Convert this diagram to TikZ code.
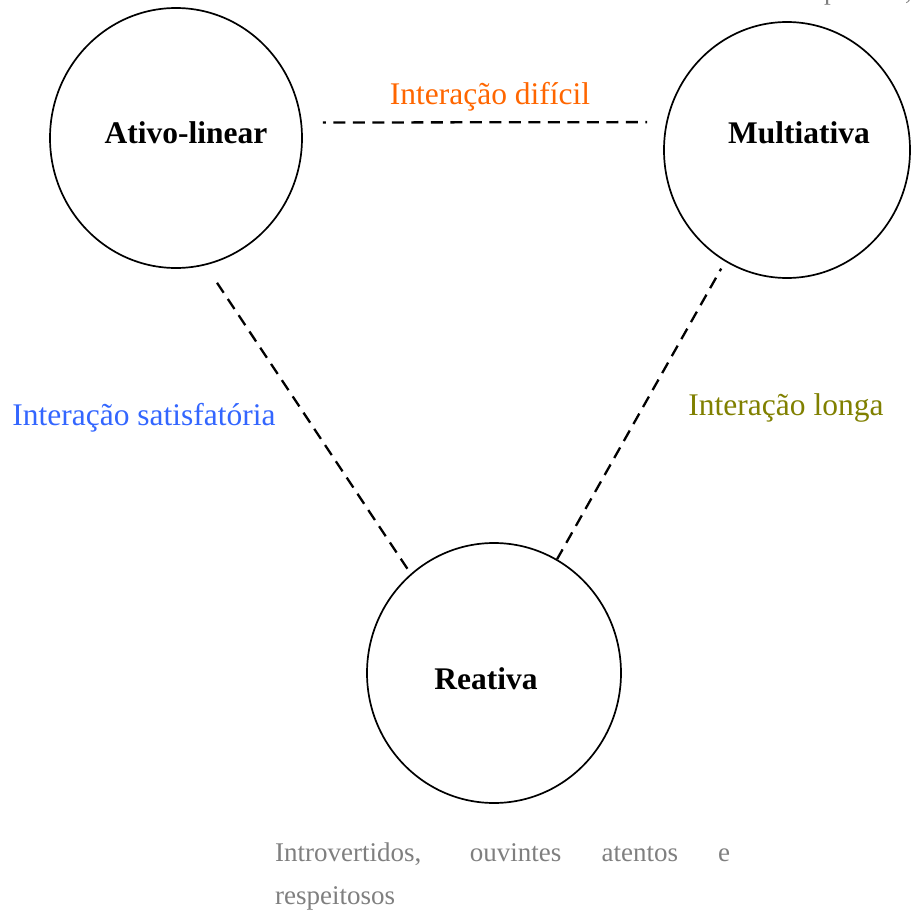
\documentclass[tikz,border=0pt]{standalone}
\usepackage{fontspec}
\setmainfont{Liberation Serif}
\usetikzlibrary{shapes.geometric}
\definecolor{difcolor}{HTML}{FF6600}
\definecolor{satcolor}{HTML}{3366FF}
\definecolor{longcolor}{HTML}{808000}
\definecolor{desccolor}{HTML}{7F7F7F}
\begin{document}
\begin{tikzpicture}[x=1pt, y=-1pt,
    role/.style={ellipse, draw, line width=1.7pt, inner sep=0pt},
    rolename/.style={anchor=base, font=\fontsize{31.5}{38}\selectfont\bfseries},
    link/.style={draw, line width=2.3pt, dash pattern=on 12pt off 7.5pt},
    linklabel/.style={anchor=base, font=\fontsize{31.5}{38}\selectfont},
    desc/.style={text=desccolor, inner sep=0pt, font=\fontsize{27}{43}\selectfont}]
    \useasboundingbox (0,0) rectangle (911,910);
    % the three profiles
    \node[role, minimum width=252pt, minimum height=260pt] (ativo) at (176,138) {};
    \node[role, minimum width=246pt, minimum height=256pt] (multi) at (787,150) {};
    \node[role, minimum width=254pt, minimum height=260pt] (reat) at (494,673) {};
    \node[rolename] (ativoname) at (186,143) {Ativo-linear};
    \node[rolename] (multiname) at (799,143) {Multiativa};
    \node[rolename] (reatname) at (486,689) {Reativa};
    % interactions
    \draw[link, dash phase=9pt, shorten <=21pt, shorten >=19pt] (ativo.7) -- (multi.167);
    \draw[link, shorten <=21pt, shorten >=5pt] (ativo.-77) -- (reat.130);
    \draw[link, dash phase=9pt, shorten <=8pt] (multi.-119) -- (reat.61);
    \node[linklabel, text=difcolor] (diflabel) at (490,104) {Interação difícil};
    \node[linklabel, text=satcolor] (satlabel) at (144,425) {Interação satisfatória};
    \node[linklabel, text=longcolor] (longlabel) at (786,415) {Interação longa};
    % descriptions
    \node[desc, anchor=base west] (multidesc) at (824,-1) {prontos,};
    \node[desc, anchor=base west, text width=455pt, align=justify] (reatdesc) at (275,861)
        {Introvertidos, ouvintes atentos e\linebreak respeitosos};
\end{tikzpicture}
\end{document}
